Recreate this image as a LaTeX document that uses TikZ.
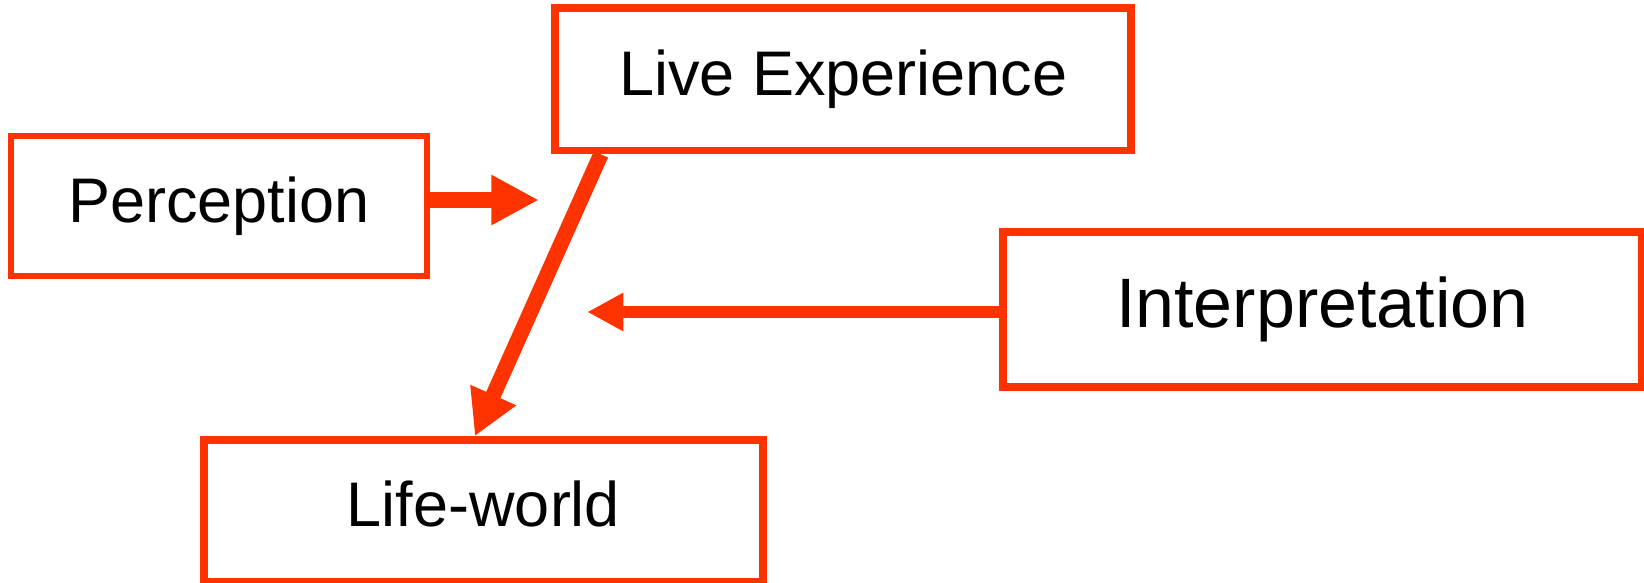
\documentclass[tikz,border=0pt]{standalone}
\usepackage{fontspec}
\setmainfont{Liberation Sans}
\usetikzlibrary{arrows.meta,calc}
\definecolor{kred}{RGB}{255,51,0}
\tikzset{
  box/.style={draw=kred, rectangle, inner sep=0pt, fill=white, text=black,
    font=\fontsize{63}{70}\selectfont, text height=45.1pt, text depth=13.5pt},
  bigbox/.style={box, font=\fontsize{70}{78}\selectfont, text height=50.1pt, text depth=15pt},
  conn/.style={draw=kred, line cap=butt}
}
\begin{document}
\begin{tikzpicture}[x=1pt,y=-1pt]
\useasboundingbox (0,0) rectangle (1644,583);
\node[box, line width=6pt, minimum width=416pt, minimum height=140pt] (perc) at (219,206.3) {Perception};
\node[box, line width=7.7pt, minimum width=576pt, minimum height=142.5pt] (live) at (843.3,79.3) {Live Experience};
\node[bigbox, line width=7.5pt, minimum width=638.5pt, minimum height=155.2pt] (interp) at (1322.3,309.6) {Interpretation};
\node[box, line width=7.8pt, minimum width=559.4pt, minimum height=142pt] (life) at (483.5,511) {Life-world};
\coordinate (pend) at (538.8,200);
\coordinate (iend) at (587.3,312);
\draw[conn, line width=16pt, -{Triangle[length=47.5pt,width=47pt]}] (perc.east |- pend) -- (pend);
\draw[conn, line width=12pt, -{Triangle[length=36pt,width=36pt]}] (interp.west |- iend) -- (iend);
\draw[conn, line width=15.5pt, -{Triangle[length=45pt,width=47pt]}] ($(live.south west)+(49.5,0)$) -- ($(life.north west)+(275,0)$);
\end{tikzpicture}
\end{document}
